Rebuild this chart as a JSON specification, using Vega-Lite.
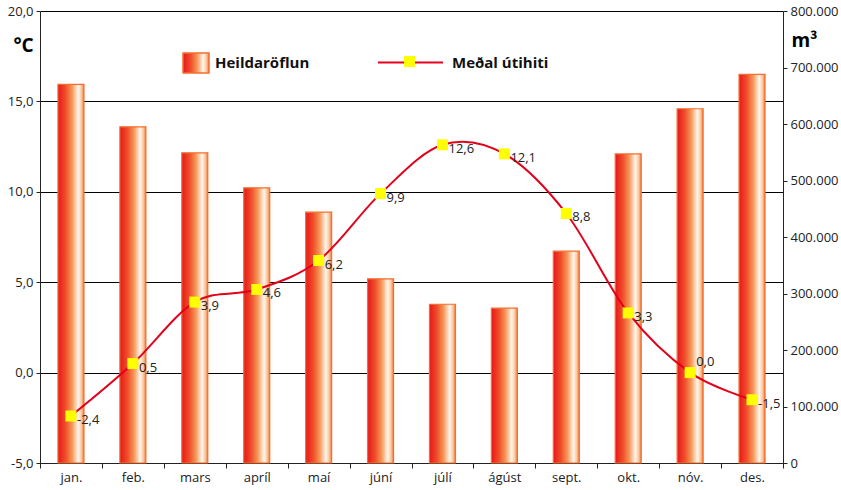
{
  "$schema": "https://vega.github.io/schema/vega-lite/v6.json",
  "width": 743,
  "height": 452,
  "autosize": {"type": "none"},
  "padding": {"left": 40, "top": 11, "right": 58, "bottom": 27},
  "config": {
    "locale": {"number": {"decimal": ",", "thousands": ".", "grouping": [3], "currency": ["", " kr."], "minus": "-"}},
    "font": "Open Sans",
    "view": {"stroke": null},
    "axis": {"labelFont": "Open Sans", "labelFontSize": 13, "labelColor": "#222", "domainColor": "#222", "tickColor": "#222", "titleFont": "Open Sans", "titleColor": "#000"}
  },
  "data": {
    "values": [
      {"month": "jan.", "flow": 670000, "temp": -2.4},
      {"month": "feb.", "flow": 595000, "temp": 0.5},
      {"month": "mars", "flow": 549000, "temp": 3.9},
      {"month": "apríl", "flow": 487000, "temp": 4.6},
      {"month": "maí", "flow": 444000, "temp": 6.2},
      {"month": "júní", "flow": 326000, "temp": 9.9},
      {"month": "júlí", "flow": 281000, "temp": 12.6},
      {"month": "ágúst", "flow": 274000, "temp": 12.1},
      {"month": "sept.", "flow": 375000, "temp": 8.8},
      {"month": "okt.", "flow": 547000, "temp": 3.3},
      {"month": "nóv.", "flow": 627000, "temp": 0.0},
      {"month": "des.", "flow": 688000, "temp": -1.5}
    ]
  },
  "encoding": {
    "x": {
      "field": "month", "type": "ordinal", "sort": null,
      "scale": {"paddingInner": 0, "paddingOuter": 0},
      "axis": {"title": null, "labelAngle": 0, "tickBand": "extent", "tickSize": 5, "labelPadding": 3, "labelFontSize": 13}
    }
  },
  "layer": [
    {
      "mark": {
        "type": "bar",
        "width": {"band": 0.42},
        "strokeWidth": 1.2,
        "fill": {"gradient": "linear", "x1": 0, "y1": 0, "x2": 1, "y2": 0,
          "stops": [
            {"offset": 0, "color": "#e8161b"},
            {"offset": 0.3, "color": "#f0502a"},
            {"offset": 0.55, "color": "#f59a5a"},
            {"offset": 0.78, "color": "#fff6ee"},
            {"offset": 0.9, "color": "#fbc9a0"},
            {"offset": 1, "color": "#f47a3a"}
          ]}
      },
      "encoding": {
        "y": {
          "field": "flow", "type": "quantitative",
          "scale": {"domain": [0, 800000], "nice": false},
          "axis": {
            "orient": "right", "values": [0, 100000, 200000, 300000, 400000, 500000, 600000, 700000, 800000],
            "format": ",.0f", "grid": false, "tickSize": 4, "labelPadding": 3,
            "title": "m³", "titleAngle": 0, "titleX": 21, "titleY": 29, "titleAlign": "center", "titleBaseline": "middle",
            "titleFontSize": 19, "titleFontWeight": "bold"
          }
        },
        "stroke": {
          "datum": "Heildaröflun", "type": "nominal",
          "scale": {"range": ["#f36f2f"]},
          "legend": {
            "orient": "none", "legendX": 145, "legendY": 41, "title": null, "padding": 0,
            "symbolType": "M-1.3,-1H1.3V1H-1.3Z", "symbolSize": 400, "symbolStrokeWidth": 1.5,
            "labelFont": "Open Sans", "labelFontSize": 15, "labelFontWeight": "bold", "labelColor": "#111", "labelOffset": 8,
            "encode": {"symbols": {"update": {
              "fill": {"value": {"gradient": "linear", "x1": 0, "y1": 0, "x2": 1, "y2": 0,
                "stops": [
                  {"offset": 0, "color": "#e8161b"},
                  {"offset": 0.3, "color": "#f0502a"},
                  {"offset": 0.55, "color": "#f59a5a"},
                  {"offset": 0.78, "color": "#fff6ee"},
                  {"offset": 0.9, "color": "#fbc9a0"},
                  {"offset": 1, "color": "#f47a3a"}
                ]}},
              "stroke": {"value": "#f36f2f"}
            }}}
          }
        }
      }
    },
    {
      "encoding": {
        "y": {
          "field": "temp", "type": "quantitative",
          "scale": {"domain": [-5, 20], "nice": false, "zero": false},
          "axis": {
            "orient": "left", "values": [-5, 0, 5, 10, 15, 20], "format": ".1f",
            "grid": true, "gridColor": "#000", "gridWidth": 1, "gridOpacity": 1,
            "tickSize": 4, "labelPadding": 3,
            "title": "°C", "titleAngle": 0, "titleX": -17, "titleY": 34, "titleAlign": "center", "titleBaseline": "middle",
            "titleFontSize": 19, "titleFontWeight": "bold"
          }
        }
      },
      "layer": [
        {
          "mark": {"type": "line", "interpolate": "cardinal", "strokeWidth": 2},
          "encoding": {
            "color": {
              "datum": "Meðal útihiti", "type": "nominal",
              "scale": {"range": ["#e3001b"]},
              "legend": {
                "orient": "none", "legendX": 337, "legendY": 18, "title": null, "padding": 0,
                "symbolType": "stroke", "symbolSize": 4225, "symbolStrokeWidth": 2,
                "labelFont": "Open Sans", "labelFontSize": 15, "labelFontWeight": "bold", "labelColor": "#111", "labelOffset": 8
              }
            }
          }
        },
        {
          "mark": {"type": "point", "shape": "square", "size": 121, "filled": true, "opacity": 1, "strokeWidth": 0},
          "encoding": {
            "fill": {
              "datum": "merki", "type": "nominal",
              "scale": {"range": ["#ffff00"]},
              "legend": {
                "orient": "none", "legendX": 364, "legendY": 45, "title": null, "padding": 0,
                "symbolType": "square", "symbolSize": 121, "symbolStrokeWidth": 0, "symbolOpacity": 1,
                "labelExpr": "''"
              }
            }
          }
        },
        {
          "transform": [{"filter": "datum.month !== 'nóv.'"}],
          "mark": {"type": "text", "align": "left", "baseline": "middle", "dx": 6, "dy": 4, "fontSize": 13, "font": "Open Sans", "color": "#222"},
          "encoding": {"text": {"field": "temp", "type": "quantitative", "format": ".1f"}}
        },
        {
          "transform": [{"filter": "datum.month === 'nóv.'"}],
          "mark": {"type": "text", "align": "left", "baseline": "middle", "dx": 6, "dy": -11, "fontSize": 13, "font": "Open Sans", "color": "#222"},
          "encoding": {"text": {"field": "temp", "type": "quantitative", "format": ".1f"}}
        }
      ]
    }
  ],
  "resolve": {"scale": {"y": "independent"}}
}
